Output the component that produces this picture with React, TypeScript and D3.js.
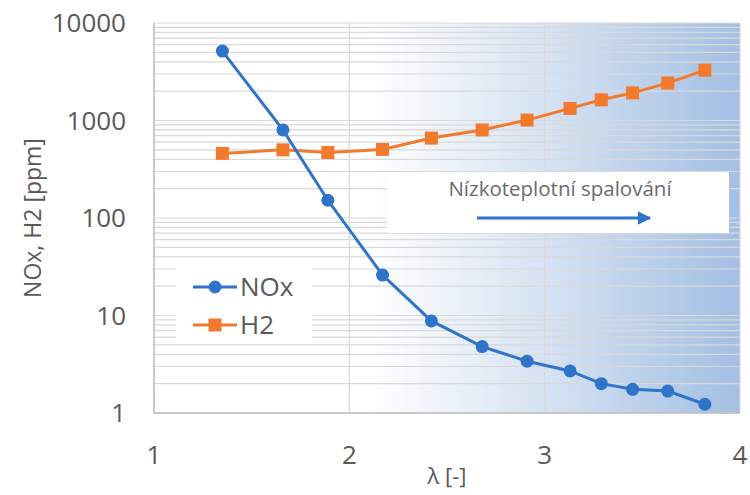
import { useEffect, useRef } from "react";
import * as d3 from "d3";

const lambdaVals = [1.35, 1.66, 1.89, 2.17, 2.42, 2.68, 2.91, 3.13, 3.29, 3.45, 3.63, 3.82];
const noxVals = [5150, 800, 152, 26, 8.8, 4.8, 3.4, 2.7, 2.0, 1.75, 1.68, 1.23];
const h2Vals = [460, 500, 470, 505, 660, 800, 1010, 1330, 1630, 1920, 2420, 3280];
const xTicks = [1, 2, 3, 4];
const yTicks = [1, 10, 100, 1000, 10000];
const seriesNames = ["NOx", "H2"];
const noteText = "Nízkoteplotní spalování";

const BLUE = "#2f74c8";
const ORANGE = "#f27a2c";
const FONT = "'Open Sans', sans-serif";

export default function App() {
  const svgRef = useRef<SVGSVGElement | null>(null);

  useEffect(() => {
    const svg = d3.select(svgRef.current);
    svg.selectAll("*").remove();
    const width = 750;
    const height = 495;
    const margin = { top: 23, right: 10, bottom: 82, left: 154 };

    const x = d3.scaleLinear().domain([1, 4]).range([margin.left, width - margin.right]);
    const y = d3.scaleLog().domain([1, 10000]).range([height - margin.bottom, margin.top]);

    const defs = svg.append("defs");
    const grad = defs
      .append("linearGradient")
      .attr("id", "bg")
      .attr("x1", "0")
      .attr("x2", "1")
      .attr("y1", "0")
      .attr("y2", "0");
    grad.append("stop").attr("offset", "0.37").attr("stop-color", "#ffffff");
    grad.append("stop").attr("offset", "0.7").attr("stop-color", "#d1dff1");
    grad.append("stop").attr("offset", "1").attr("stop-color", "#a3bfe3");
    defs
      .append("marker")
      .attr("id", "arrow")
      .attr("viewBox", "0 0 10 10")
      .attr("refX", 9)
      .attr("refY", 5)
      .attr("markerWidth", 6)
      .attr("markerHeight", 4.5)
      .attr("markerUnits", "strokeWidth")
      .attr("orient", "auto")
      .append("path")
      .attr("d", "M0,0 L10,5 L0,10 Z")
      .attr("fill", BLUE);

    const [x0, x1] = x.range();
    const [yb, yt] = y.range();

    svg
      .append("rect")
      .attr("x", x0)
      .attr("y", yt)
      .attr("width", x1 - x0)
      .attr("height", yb - yt)
      .attr("fill", "url(#bg)");

    // minor + major horizontal gridlines
    const gridVals: number[] = [];
    for (let p = 0; p < 4; p++) {
      for (let m = 1; m <= 9; m++) gridVals.push(m * Math.pow(10, p));
    }
    gridVals.push(10000);
    svg
      .append("g")
      .selectAll("line")
      .data(gridVals)
      .enter()
      .append("line")
      .attr("x1", x0)
      .attr("x2", x1)
      .attr("y1", (d) => y(d))
      .attr("y2", (d) => y(d))
      .attr("stroke", "#d9d9d9")
      .attr("stroke-width", 1.2);

    svg
      .append("g")
      .selectAll("line")
      .data(xTicks)
      .enter()
      .append("line")
      .attr("x1", (d) => x(d))
      .attr("x2", (d) => x(d))
      .attr("y1", yt)
      .attr("y2", yb)
      .attr("stroke", "#d9d9d9")
      .attr("stroke-width", 1.2);

    // axis lines
    svg
      .append("path")
      .attr("d", `M${x0},${yt} V${yb} H${x1}`)
      .attr("fill", "none")
      .attr("stroke", "#bfbfbf")
      .attr("stroke-width", 1.5);

    // tick labels
    svg
      .append("g")
      .selectAll("text")
      .data(yTicks)
      .enter()
      .append("text")
      .attr("x", 126)
      .attr("y", (d) => y(d))
      .attr("dy", "0.35em")
      .attr("text-anchor", "end")
      .attr("font-family", FONT)
      .attr("font-size", 26)
      .attr("fill", "#595959")
      .text((d) => String(d));

    svg
      .append("g")
      .selectAll("text")
      .data(xTicks)
      .enter()
      .append("text")
      .attr("x", (d) => x(d))
      .attr("y", 455)
      .attr("dy", "0.35em")
      .attr("text-anchor", "middle")
      .attr("font-family", FONT)
      .attr("font-size", 26)
      .attr("fill", "#595959")
      .text((d) => String(d));

    svg
      .append("text")
      .attr("transform", `translate(33,${(yt + yb) / 2}) rotate(-90)`)
      .attr("dy", "0.35em")
      .attr("text-anchor", "middle")
      .attr("font-family", FONT)
      .attr("font-size", 23)
      .attr("fill", "#595959")
      .text("NOx, H2 [ppm]");

    svg
      .append("text")
      .attr("x", (x0 + x1) / 2)
      .attr("y", 476)
      .attr("dy", "0.35em")
      .attr("text-anchor", "middle")
      .attr("font-family", FONT)
      .attr("font-size", 22)
      .attr("fill", "#595959")
      .text("λ [-]");

    // annotation box
    svg
      .append("rect")
      .attr("x", 387)
      .attr("y", 172)
      .attr("width", 342)
      .attr("height", 61)
      .attr("fill", "#ffffff");
    svg
      .append("text")
      .attr("x", 560)
      .attr("y", 196)
      .attr("text-anchor", "middle")
      .attr("font-family", FONT)
      .attr("font-size", 20.5)
      .attr("fill", "#6b6b6b")
      .text(noteText);
    svg
      .append("line")
      .attr("x1", 477)
      .attr("x2", 650)
      .attr("y1", 218)
      .attr("y2", 218)
      .attr("stroke", BLUE)
      .attr("stroke-width", 3)
      .attr("marker-end", "url(#arrow)");

    const line = d3
      .line<[number, number]>()
      .x((d) => x(d[0]))
      .y((d) => y(d[1]));

    const noxData: [number, number][] = lambdaVals.map((l, i) => [l, noxVals[i]]);
    const h2Data: [number, number][] = lambdaVals.map((l, i) => [l, h2Vals[i]]);

    svg
      .append("path")
      .datum(h2Data)
      .attr("fill", "none")
      .attr("stroke", ORANGE)
      .attr("stroke-width", 3)
      .attr("d", line);
    svg
      .append("g")
      .selectAll("rect")
      .data(h2Data)
      .enter()
      .append("rect")
      .attr("x", (d) => x(d[0]) - 6.5)
      .attr("y", (d) => y(d[1]) - 6.5)
      .attr("width", 13)
      .attr("height", 13)
      .attr("fill", ORANGE);

    svg
      .append("path")
      .datum(noxData)
      .attr("fill", "none")
      .attr("stroke", BLUE)
      .attr("stroke-width", 3)
      .attr("d", line);
    svg
      .append("g")
      .selectAll("circle")
      .data(noxData)
      .enter()
      .append("circle")
      .attr("cx", (d) => x(d[0]))
      .attr("cy", (d) => y(d[1]))
      .attr("r", 6.5)
      .attr("fill", BLUE);

    // legend
    const lg = svg.append("g");
    lg.append("rect")
      .attr("x", 176)
      .attr("y", 263)
      .attr("width", 136)
      .attr("height", 78)
      .attr("fill", "#ffffff");
    seriesNames.forEach((name, i) => {
      const cy = 287 + i * 38;
      const color = i === 0 ? BLUE : ORANGE;
      lg.append("line")
        .attr("x1", 193)
        .attr("x2", 237)
        .attr("y1", cy)
        .attr("y2", cy)
        .attr("stroke", color)
        .attr("stroke-width", 3);
      if (i === 0) {
        lg.append("circle").attr("cx", 215).attr("cy", cy).attr("r", 6.5).attr("fill", color);
      } else {
        lg.append("rect")
          .attr("x", 215 - 6.5)
          .attr("y", cy - 6.5)
          .attr("width", 13)
          .attr("height", 13)
          .attr("fill", color);
      }
      lg.append("text")
        .attr("x", 240)
        .attr("y", cy)
        .attr("dy", "0.35em")
        .attr("font-family", FONT)
        .attr("font-size", 26)
        .attr("fill", "#595959")
        .text(name);
    });
  }, []);

  return (
    <svg
      ref={svgRef}
      width={750}
      height={495}
      viewBox="0 0 750 495"
      style={{ position: "absolute", left: 0, top: 0, background: "#fff" }}
    />
  );
}
